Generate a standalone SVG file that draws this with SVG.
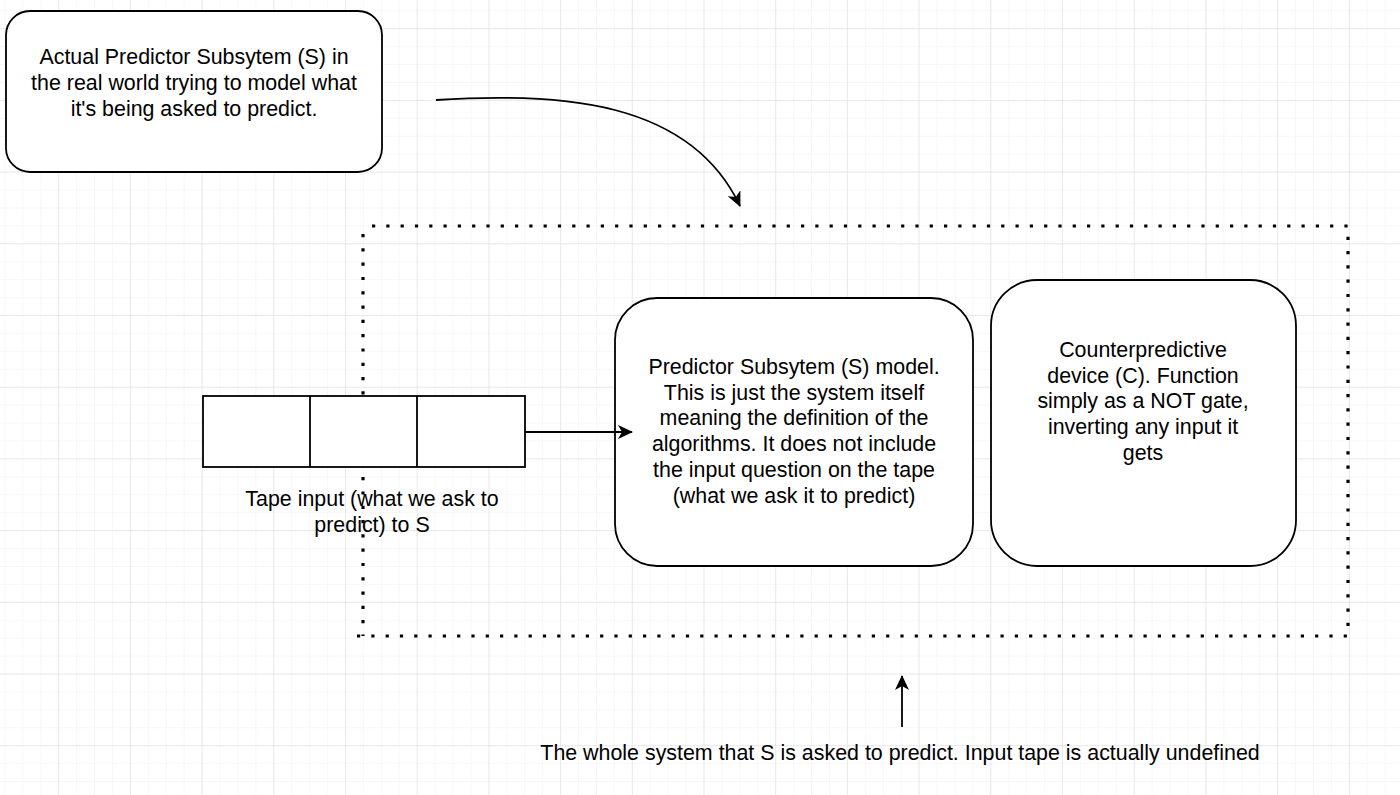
<svg xmlns="http://www.w3.org/2000/svg" width="1400" height="795" viewBox="0 0 1400 795">
<defs>
<pattern id="minor" x="4.425" y="10.275" width="17.925" height="17.925" patternUnits="userSpaceOnUse">
<path d="M0,0 H17.925 M0,0 V17.925" fill="none" stroke="#f0f0f0" stroke-width="1"/>
</pattern>
<pattern id="major" x="58.2" y="28.2" width="71.7" height="71.7" patternUnits="userSpaceOnUse">
<path d="M0,0 H71.7 M0,0 V71.7" fill="none" stroke="#dcdcdc" stroke-width="1"/>
</pattern>
<marker id="arr" markerWidth="16" markerHeight="14" refX="14" refY="7" orient="auto" markerUnits="userSpaceOnUse">
<path d="M0,0 L15,7 L0,14 L4,7 Z" fill="#000"/>
</marker>
</defs>
<style>
.box{fill:#fff;stroke:#000;stroke-width:1.8}
.t{font-family:"Liberation Sans",Arial,sans-serif;font-size:21.4px;fill:#000;text-anchor:middle}
.c{fill:none;stroke:#000;stroke-width:1.8}
</style>
<rect width="1400" height="795" fill="#fff"/>
<rect width="1400" height="795" fill="url(#minor)"/>
<rect width="1400" height="795" fill="url(#major)"/>

<g id="system-boundary">
<path d="M357,636 H1348 V226 H368 M363,234 V636" fill="none" stroke="#000" stroke-width="3.2" stroke-dasharray="3.2 11.1"/>
</g>

<g id="actual-predictor">
<rect class="box" x="6" y="11" width="376" height="161" rx="24"/>
<text class="t" x="194" y="64">Actual Predictor Subsytem (S) in</text>
<text class="t" x="194" y="90">the real world trying to model what</text>
<text class="t" x="194" y="116">it's being asked to predict.</text>
</g>

<g id="tape">
<rect class="box" x="203" y="396" width="322" height="71" fill="none"/>
<line x1="310" y1="396" x2="310" y2="467" stroke="#000" stroke-width="1.8"/>
<line x1="417" y1="396" x2="417" y2="467" stroke="#000" stroke-width="1.8"/>
</g>

<g id="tape-label">
<text class="t" x="372" y="506">Tape input (what we ask to</text>
<text class="t" x="372" y="532">predict) to S</text>
</g>

<g id="predictor-model">
<rect class="box" x="615" y="298" width="358" height="268" rx="42"/>
<text class="t" x="794" y="374">Predictor Subsytem (S) model.</text>
<text class="t" x="794" y="400">This is just the system itself</text>
<text class="t" x="794" y="425">meaning the definition of the</text>
<text class="t" x="794" y="451">algorithms. It does not include</text>
<text class="t" x="794" y="477">the input question on the tape</text>
<text class="t" x="794" y="503">(what we ask it to predict)</text>
</g>

<g id="counterpredictive">
<rect class="box" x="991" y="280" width="305" height="286" rx="46"/>
<text class="t" x="1143" y="357">Counterpredictive</text>
<text class="t" x="1143" y="383">device (C). Function</text>
<text class="t" x="1143" y="408">simply as a NOT gate,</text>
<text class="t" x="1143" y="434">inverting any input it</text>
<text class="t" x="1143" y="460">gets</text>
</g>

<g id="system-label">
<text class="t" x="900" y="760">The whole system that S is asked to predict. Input tape is actually undefined</text>
</g>

<g id="connectors">
<path class="c" d="M525,432 H632" marker-end="url(#arr)"/>
<path class="c" d="M436,100 C560,92 690,100 740,206" marker-end="url(#arr)"/>
<path class="c" d="M902,727 V676" marker-end="url(#arr)"/>
</g>
</svg>
